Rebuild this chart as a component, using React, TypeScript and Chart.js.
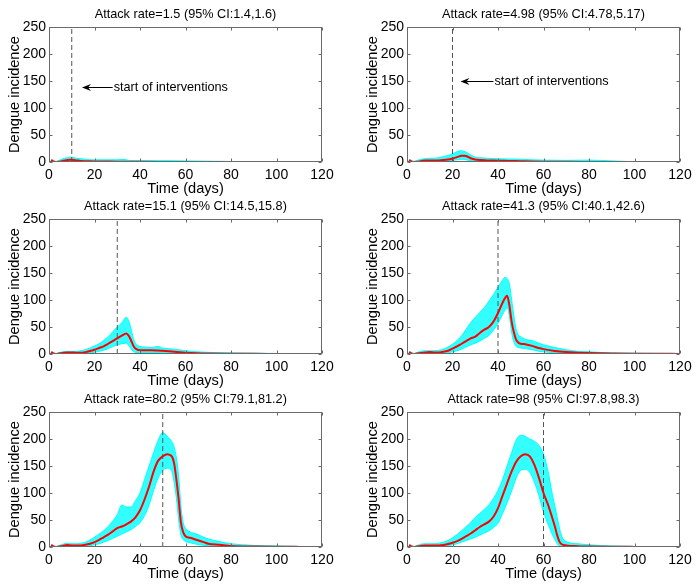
import React, { useEffect, useRef } from "react";
import { Chart, registerables } from "chart.js";

Chart.register(...registerables);

const FONT = "'Liberation Sans', Arial, Helvetica, sans-serif";

const xTicks = [0, 20, 40, 60, 80, 100, 120];
const yTicks = [0, 50, 100, 150, 200, 250];
const xLabel = "Time (days)";
const yLabel = "Dengue incidence";
const noteText = "start of interventions";

const titles = [
  "Attack rate=1.5 (95% CI:1.4,1.6)",
  "Attack rate=4.98 (95% CI:4.78,5.17)",
  "Attack rate=15.1 (95% CI:14.5,15.8)",
  "Attack rate=41.3 (95% CI:40.1,42.6)",
  "Attack rate=80.2 (95% CI:79.1,81.2)",
  "Attack rate=98 (95% CI:97.8,98.3)",
];
const interventionDays = [10, 20, 30, 40, 50, 60];

// annotation ("start of interventions") for the first two panels, in data units
const noteY = [139, 150];
const noteHeadDay = [14.5, 23.5];
const noteTailDay = [28, 38];

// Panel 1
const days1 = [1, 2, 3, 4, 5, 6, 7, 8, 9, 10, 11, 12, 14, 16, 18, 20, 25, 30, 33, 35, 40, 50, 60, 70, 80, 90, 100, 110, 120];
const mean1 = [4, 1, 0, 0.3, 1, 2, 3, 3.5, 4, 4, 3.5, 3, 2, 1.5, 1.2, 1, 0.8, 0.6, 0.5, 0.4, 0.3, 0.2, 0.1, 0.1, 0, 0, 0, 0, 0];
const upper1 = [4, 1, 0.5, 2, 4, 6, 7, 8, 9, 9, 8, 7, 6, 5, 4, 4, 4, 4, 5, 3, 2.5, 2.5, 2, 1.5, 1, 0.5, 0, 0, 0];
const lower1 = [4, 1, 0, 0, 0, 0, 0, 0.5, 1, 1, 1, 0.5, 0, 0, 0, 0, 0, 0, 0, 0, 0, 0, 0, 0, 0, 0, 0, 0, 0];

// Panel 2
const days2 = [1, 2, 3, 4, 6, 8, 10, 12, 14, 16, 18, 20, 22, 24, 25, 26, 28, 30, 32, 35, 40, 45, 50, 55, 60, 70, 80, 90, 100, 110, 120];
const mean2 = [4, 1, 0, 0.3, 1.5, 3, 3, 3, 3, 3.5, 4.5, 6.5, 9, 11.5, 11.8, 11, 7, 4.5, 3.5, 3, 2.5, 2, 1.5, 1, 0.6, 0.3, 0.2, 0.1, 0, 0, 0];
const upper2 = [4, 1, 0.5, 2, 5, 6, 7, 7, 8, 10, 12, 15, 19, 21, 20, 18, 13, 9, 8, 7, 6, 5.5, 5, 4, 3.5, 3, 3.5, 2, 0.5, 0, 0];
const lower2 = [4, 1, 0, 0, 0, 0, 0, 0.5, 1, 1, 2, 3, 4, 5, 5, 4, 2, 1, 0.5, 0.5, 0, 0, 0, 0, 0, 0, 0, 0, 0, 0, 0];

// Panel 3
const days3 = [1, 2, 3, 4, 6, 8, 10, 12, 14, 16, 18, 20, 22, 24, 26, 28, 30, 32, 34, 35, 36, 37, 38, 40, 42, 45, 48, 50, 55, 60, 65, 70, 80, 90, 100, 110, 120];
const mean3 = [4, 1, 0, 0.5, 2, 3, 3, 2.5, 2.5, 3.5, 5.5, 8, 11, 14, 19, 24, 29, 34, 38, 34, 26, 16, 10, 7, 7, 7, 6.5, 6, 4, 2.5, 1.5, 1, 0.6, 0.3, 0.2, 0.1, 0];
const upper3 = [4, 1, 0.5, 2, 4, 5, 5, 5, 6, 8, 11, 15, 19, 25, 32, 41, 50, 58, 68, 62, 48, 30, 20, 14, 13, 12, 14, 11, 9, 6, 4, 3, 2, 1.5, 1, 0.5, 0];
const lower3 = [4, 1, 0, 0, 0.5, 1, 1, 1, 1, 1.5, 2, 3, 5, 7, 10, 14, 17, 19, 20, 16, 10, 5, 3, 2.5, 2.5, 2, 2, 1.5, 1, 0.5, 0, 0, 0, 0, 0, 0, 0];

// Panel 4
const days4 = [1, 2, 3, 4, 6, 8, 10, 12, 14, 16, 18, 20, 22, 24, 26, 28, 30, 32, 34, 36, 38, 40, 42, 43, 44, 45, 46, 47, 48, 49, 50, 52, 55, 58, 60, 65, 70, 75, 80, 90, 100, 110, 120];
const mean4 = [4, 1, 0, 0.5, 2, 3, 3.5, 3, 3, 4, 6, 10, 14, 19, 24, 29, 32, 39, 45, 50, 60, 76, 95, 103, 108, 90, 60, 40, 26, 21, 19, 18, 15, 11, 9, 5.5, 3.5, 2.5, 1.8, 1, 0.5, 0.3, 0.2];
const upper4 = [4, 1, 0.5, 2, 5, 6, 6, 6, 7, 9, 13, 18, 25, 34, 46, 58, 68, 77, 86, 98, 110, 124, 137, 142, 140, 130, 100, 70, 45, 35, 32, 27, 25, 20, 17, 12, 8, 5, 4, 2, 1.5, 1, 0.5];
const lower4 = [4, 1, 0, 0, 0.5, 1, 1, 1, 1, 1.5, 2, 4, 6, 9, 13, 17, 20, 24, 29, 34, 44, 57, 73, 81, 86, 70, 40, 22, 14, 12, 11, 10, 8, 5, 4, 2, 1, 0.5, 0, 0, 0, 0, 0];

// Panel 5
const days5 = [1, 2, 3, 4, 6, 8, 10, 12, 14, 16, 18, 20, 22, 24, 26, 28, 30, 32, 34, 36, 38, 40, 42, 44, 46, 48, 50, 52, 54, 55, 56, 57, 58, 59, 60, 62, 65, 68, 70, 75, 80, 90, 100, 110, 120];
const mean5 = [4, 1, 0, 0.5, 2, 3.5, 3, 3, 3, 4, 6, 9, 13, 18, 23, 29, 35, 38, 42, 47, 55, 68, 88, 112, 140, 160, 168, 172, 168, 155, 125, 88, 45, 27, 20, 17, 13, 9, 6, 4, 2, 1, 0.5, 0.2, 0];
const upper5 = [4, 1, 0.5, 2, 5, 7, 6, 6, 7, 9, 13, 18, 24, 30, 38, 48, 60, 78, 74, 74, 86, 100, 125, 150, 175, 198, 212, 205, 195, 185, 165, 130, 75, 45, 35, 28, 24, 18, 15, 10, 6, 3, 2, 1, 0.5];
const lower5 = [4, 1, 0, 0, 0.5, 1, 1, 1, 1, 1.5, 2.5, 4, 6, 9, 12, 16, 20, 24, 28, 32, 38, 45, 58, 78, 105, 128, 142, 146, 140, 120, 90, 50, 22, 14, 10, 8, 5, 3, 2, 1, 0.3, 0, 0, 0, 0];

// Panel 6
const days6 = [1, 2, 3, 4, 6, 8, 10, 12, 14, 16, 18, 20, 22, 24, 26, 28, 30, 32, 34, 36, 38, 40, 42, 44, 46, 48, 50, 52, 54, 56, 58, 60, 62, 64, 65, 66, 67, 68, 70, 75, 80, 90, 100, 110, 120];
const mean6 = [4, 1, 0, 0.5, 2, 3, 3, 3, 3, 3.5, 5.5, 8, 11, 15, 20, 25, 31, 37, 42, 47, 56, 72, 95, 118, 140, 158, 168, 172, 168, 152, 128, 100, 78, 52, 38, 22, 10, 5, 3, 1.5, 1, 0.5, 0.2, 0, 0];
const upper6 = [4, 1, 0.5, 2, 5, 6, 6, 6, 7, 9, 12, 17, 23, 30, 38, 45, 55, 62, 70, 78, 90, 105, 125, 150, 175, 198, 207, 205, 200, 196, 188, 172, 140, 95, 75, 55, 35, 20, 10, 6, 4, 2, 1, 0.5, 0];
const lower6 = [4, 1, 0, 0, 0.5, 1, 1, 1, 1, 1.5, 2.5, 4, 6, 9, 12, 15, 18, 22, 26, 30, 36, 44, 62, 82, 104, 128, 142, 144, 138, 120, 95, 65, 42, 22, 14, 6, 2, 1, 0.5, 0, 0, 0, 0, 0, 0];

const allDays = [days1, days2, days3, days4, days5, days6];
const allMean = [mean1, mean2, mean3, mean4, mean5, mean6];
const allUpper = [upper1, upper2, upper3, upper4, upper5, upper6];
const allLower = [lower1, lower2, lower3, lower4, lower5, lower6];

const CANVAS_W = 339;
const CANVAS_H = 196;
const colLeft = [0, 358];
const rowTop = [0, 192, 385];

const pts = (xs: number[], ys: number[]) => xs.map((x, i) => ({ x, y: ys[i] }));

const boxPlugin = {
  id: "matlabBox",
  afterDraw(chart: any) {
    const { ctx, chartArea, scales } = chart;
    const { left, right, top, bottom } = chartArea;
    const x = scales.x;
    const y = scales.y;
    ctx.save();
    ctx.strokeStyle = "#6a6a6a";
    ctx.lineWidth = 1;
    const L = Math.round(left) + 0.5;
    const R = Math.round(right) - 0.5;
    const T = Math.round(top) + 0.5;
    const B = Math.round(bottom) - 0.5;
    ctx.strokeRect(L, T, R - L, B - T);
    const tl = 3;
    ctx.beginPath();
    x.ticks.forEach((t: any) => {
      const px = Math.round(x.getPixelForValue(t.value)) + 0.5;
      ctx.moveTo(px, B);
      ctx.lineTo(px, B - tl);
      ctx.moveTo(px, T);
      ctx.lineTo(px, T + tl);
    });
    y.ticks.forEach((t: any) => {
      const py = Math.round(y.getPixelForValue(t.value)) + 0.5;
      ctx.moveTo(L, py);
      ctx.lineTo(L + tl, py);
      ctx.moveTo(R, py);
      ctx.lineTo(R - tl, py);
    });
    ctx.stroke();
    ctx.restore();
  },
};

const makeNotePlugin = (idx: number) => ({
  id: "note" + idx,
  afterDraw(chart: any) {
    if (idx >= noteY.length) return;
    const { ctx, scales } = chart;
    const x = scales.x;
    const y = scales.y;
    const py = Math.round(y.getPixelForValue(noteY[idx])) + 0.5;
    const hx = x.getPixelForValue(noteHeadDay[idx]);
    const tx = x.getPixelForValue(noteTailDay[idx]);
    ctx.save();
    ctx.strokeStyle = "#000";
    ctx.fillStyle = "#000";
    ctx.lineWidth = 1;
    ctx.beginPath();
    ctx.moveTo(tx, py);
    ctx.lineTo(hx + 6, py);
    ctx.stroke();
    ctx.beginPath();
    ctx.moveTo(hx, py);
    ctx.lineTo(hx + 9, py - 3.5);
    ctx.lineTo(hx + 6, py);
    ctx.lineTo(hx + 9, py + 3.5);
    ctx.closePath();
    ctx.fill();
    ctx.font = "12.7px " + FONT;
    ctx.textAlign = "left";
    ctx.textBaseline = "middle";
    ctx.fillText(noteText, tx + 1, py);
    ctx.restore();
  },
});

function Panel({ idx }: { idx: number }) {
  const ref = useRef<HTMLCanvasElement>(null);
  useEffect(() => {
    const iv = interventionDays[idx];
    const chart = new Chart(ref.current as HTMLCanvasElement, {
      type: "line",
      data: {
        datasets: [
          {
            label: "mean",
            data: pts(allDays[idx], allMean[idx]),
            borderColor: "#ff0000",
            borderWidth: 2,
            pointRadius: 0,
            fill: false,
            cubicInterpolationMode: "monotone",
          },
          {
            label: "start of interventions",
            data: [
              { x: iv, y: yTicks[0] },
              { x: iv, y: yTicks[yTicks.length - 1] },
            ],
            borderColor: "#555555",
            borderWidth: 1,
            borderDash: [5, 3],
            pointRadius: 0,
            fill: false,
          },
          {
            label: "upper",
            data: pts(allDays[idx], allUpper[idx]),
            borderColor: "#00ffff",
            borderWidth: 1,
            backgroundColor: "rgba(0,255,255,0.8)",
            pointRadius: 0,
            fill: "+1",
            cubicInterpolationMode: "monotone",
          },
          {
            label: "lower",
            data: pts(allDays[idx], allLower[idx]),
            borderColor: "#00ffff",
            borderWidth: 1,
            pointRadius: 0,
            fill: false,
            cubicInterpolationMode: "monotone",
          },
        ],
      } as any,
      options: {
        responsive: false,
        animation: false,
        devicePixelRatio: 1,
        layout: { padding: { left: 0, right: 17, top: 0, bottom: 0 } },
        plugins: {
          legend: { display: false },
          tooltip: { enabled: false },
          title: {
            display: true,
            text: titles[idx],
            fullSize: false,
            color: "#000",
            font: { family: FONT, size: 12.7, weight: "normal" },
            padding: { top: 6.5, bottom: 5.3 },
          },
        },
        scales: {
          x: {
            type: "linear",
            min: xTicks[0],
            max: xTicks[xTicks.length - 1],
            afterBuildTicks: (s: any) => {
              s.ticks = xTicks.map((v) => ({ value: v }));
            },
            afterFit: (s: any) => {
              s.height = 34;
            },
            grid: { display: false, drawTicks: false },
            border: { display: false },
            ticks: {
              color: "#000",
              font: { family: FONT, size: 14 },
              padding: 5,
              maxRotation: 0,
              autoSkip: false,
            },
            title: {
              display: true,
              text: xLabel,
              color: "#000",
              font: { family: FONT, size: 14.6 },
              padding: { top: 0, bottom: -1.5 },
            },
          },
          y: {
            type: "linear",
            min: yTicks[0],
            max: yTicks[yTicks.length - 1],
            afterBuildTicks: (s: any) => {
              s.ticks = yTicks.map((v) => ({ value: v }));
            },
            afterFit: (s: any) => {
              s.width = 49;
            },
            grid: { display: false, drawTicks: false },
            border: { display: false },
            ticks: {
              color: "#000",
              font: { family: FONT, size: 14 },
              padding: 3,
              autoSkip: false,
            },
            title: {
              display: true,
              text: yLabel,
              color: "#000",
              font: { family: FONT, size: 14.6 },
              padding: { top: 5.8, bottom: 0 },
            },
          },
        },
      } as any,
      plugins: [boxPlugin, makeNotePlugin(idx)],
    });
    return () => chart.destroy();
  }, [idx]);
  const left = colLeft[idx % 2];
  const top = rowTop[Math.floor(idx / 2)];
  return (
    <canvas
      ref={ref}
      width={CANVAS_W}
      height={CANVAS_H}
      style={{ position: "absolute", left, top, width: CANVAS_W, height: CANVAS_H }}
    />
  );
}

export default function App() {
  return (
    <div
      style={{
        position: "absolute",
        left: 0,
        top: 0,
        width: 697,
        height: 588,
        background: "#ffffff",
        overflow: "hidden",
      }}
    >
      {titles.map((_, i) => (
        <Panel key={i} idx={i} />
      ))}
    </div>
  );
}
